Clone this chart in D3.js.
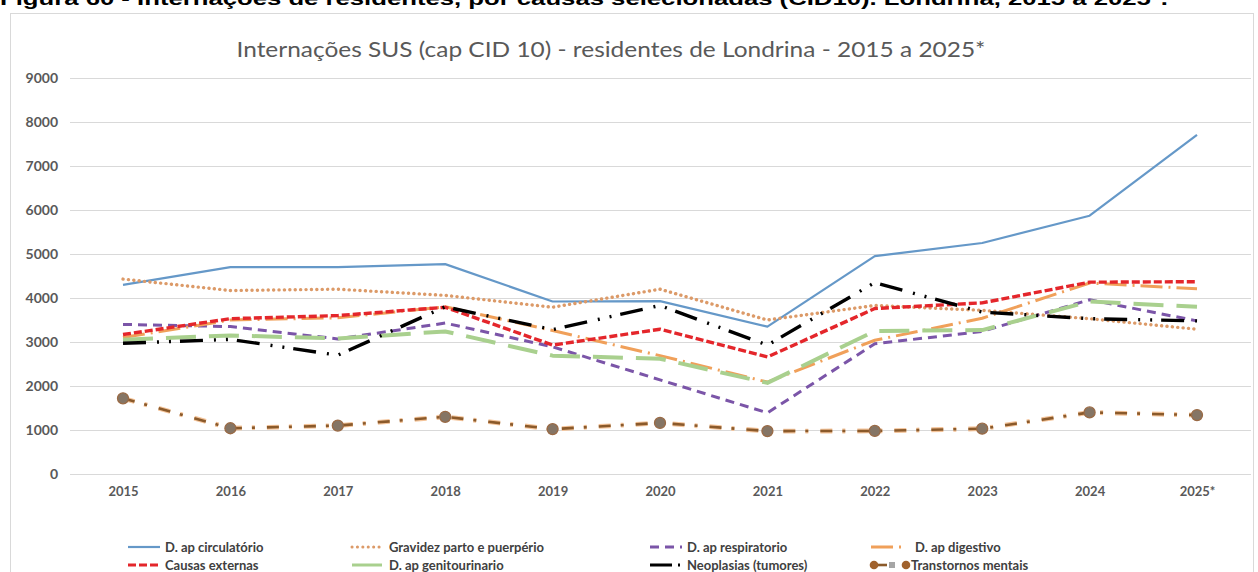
<!DOCTYPE html>
<html>
<head>
<meta charset="utf-8">
<script src="https://cdn.jsdelivr.net/npm/d3@7"></script>
<style>
body { margin: 0; background: #fff; }
svg { display: block; }
text { font-family: Lato, "Open Sans", sans-serif; }
</style>
</head>
<body>
<svg></svg>
<script>
"use strict";
// anos (eixo x)
var years = ["2015", "2016", "2017", "2018", "2019", "2020", "2021", "2022", "2023", "2024", "2025*"];
var yTicks = [0, 1000, 2000, 3000, 4000, 5000, 6000, 7000, 8000, 9000];

// internacoes por capitulo CID 10
var circulatorio   = [4300, 4700, 4700, 4770, 3920, 3930, 3350, 4950, 5250, 5870, 7710];
var gravidez       = [4430, 4170, 4200, 4060, 3790, 4200, 3500, 3830, 3720, 3530, 3290];
var respiratorio   = [3400, 3350, 3070, 3430, 2890, 2140, 1390, 2960, 3240, 3960, 3480];
var digestivo      = [3100, 3500, 3550, 3800, 3260, 2690, 2090, 3040, 3540, 4340, 4210];
var externas       = [3170, 3530, 3600, 3790, 2930, 3290, 2660, 3760, 3890, 4360, 4370];
var genitourinario = [3050, 3150, 3080, 3240, 2690, 2620, 2070, 3250, 3270, 3920, 3800];
var neoplasias     = [2970, 3060, 2700, 3800, 3280, 3830, 2930, 4350, 3680, 3530, 3480];
var mentais        = [1720, 1040, 1100, 1300, 1020, 1160, 975, 978, 1030, 1400, 1340];

var names = ["D. ap circulatório", "Gravidez parto e puerpério", "D. ap respiratorio", "D. ap digestivo",
             "Causas externas", "D. ap genitourinario", "Neoplasias (tumores)", "Transtornos mentais"];

var series = [
  {name: names[0], values: circulatorio,   color: "#6598c8", dash: null,          width: 2.2, cap: "butt"},
  {name: names[1], values: gravidez,       color: "#dc9a68", dash: "0.1,5.3",     width: 3.4, cap: "round"},
  {name: names[2], values: respiratorio,   color: "#7b55a8", dash: "9,6",         width: 3,   cap: "butt"},
  {name: names[3], values: digestivo,      color: "#f0a05a", dash: "22,6,2,6",    width: 3,   cap: "butt"},
  {name: names[4], values: externas,       color: "#e4262b", dash: "8,3",         width: 3.4, cap: "butt"},
  {name: names[5], values: genitourinario, color: "#a9d08e", dash: "30,13",       width: 4,   cap: "butt"},
  {name: names[6], values: neoplasias,     color: "#000000", dash: "23,11,2,10,2,9", width: 3.4, cap: "butt"},
  {name: names[7], values: mentais,        color: "#8b5a2b", dash: "12,10,3,12",  width: 2.6, cap: "butt", halo: "#f4c49a", marker: true}
];

var W = 1258, H = 572;
var svg = d3.select("svg").attr("width", W).attr("height", H);

// legenda da figura (cortada no topo)
svg.append("text")
  .attr("x", 0).attr("y", 5)
  .attr("textLength", 1168).attr("lengthAdjust", "spacingAndGlyphs")
  .style("font-family", "'Liberation Sans', Arial, sans-serif")
  .style("font-weight", "bold").style("font-size", "19px").attr("fill", "#000")
  .text("Figura 60 - Internações de residentes, por causas selecionadas (CID10). Londrina, 2015 a 2025*.");

// moldura do grafico
svg.append("rect")
  .attr("x", 10.5).attr("y", 13.5).attr("width", 1243).attr("height", 600)
  .attr("fill", "#fff").attr("stroke", "#d9d9d9");

svg.append("text")
  .attr("x", 611).attr("y", 57).attr("text-anchor", "middle")
  .attr("textLength", 749).attr("lengthAdjust", "spacingAndGlyphs")
  .style("font-size", "22px").attr("fill", "#595959")
  .text("Internações SUS (cap CID 10) - residentes de Londrina - 2015 a 2025*");

var x0 = 70, x1 = 1251;
var x = d3.scalePoint().domain(years).range([123, 1197]);
var y = d3.scaleLinear().domain([0, 9000]).range([474, 78]);

var yAxis = svg.append("g").attr("transform", "translate(" + x0 + ",0)")
  .call(d3.axisLeft(y).tickValues(yTicks).tickFormat(d3.format("d")).tickSize(-(x1 - x0)).tickPadding(12));
yAxis.select(".domain").remove();
yAxis.selectAll("line").attr("stroke", "#d9d9d9");
yAxis.selectAll("text").attr("fill", "#595959")
  .style("font-size", "14px").style("font-weight", "bold").style("font-family", "Lato, sans-serif");

var xAxis = svg.append("g").attr("transform", "translate(0,474)")
  .call(d3.axisBottom(x).tickSize(0).tickPadding(13));
xAxis.select(".domain").remove();
xAxis.selectAll("text").attr("fill", "#595959")
  .style("font-size", "13px").style("font-weight", "bold").style("font-family", "Lato, sans-serif");

var line = d3.line().x(function(d, i) { return x(years[i]); }).y(function(d) { return y(d); });

series.forEach(function(s) {
  if (s.halo) {
    svg.append("path").datum(s.values).attr("d", line)
      .attr("fill", "none").attr("stroke", s.halo).attr("stroke-width", s.width + 2.2)
      .attr("stroke-dasharray", s.dash);
  }
  svg.append("path").datum(s.values).attr("d", line)
    .attr("fill", "none").attr("stroke", s.color).attr("stroke-width", s.width)
    .attr("stroke-dasharray", s.dash).attr("stroke-linecap", s.cap)
    .attr("stroke-linejoin", "round");
  if (s.marker) {
    svg.append("g").selectAll("circle").data(s.values).enter().append("circle")
      .attr("cx", function(d, i) { return x(years[i]); })
      .attr("cy", function(d) { return y(d); })
      .attr("r", 5.5).attr("fill", "#857565").attr("stroke", "#9a6a45").attr("stroke-width", 1.3);
  }
});

// legenda
var legX = [128, 352, 650, 871];
var legY = [547, 565];
var leg = svg.append("g");
series.forEach(function(s, i) {
  var lx = legX[i % 4], ly = legY[Math.floor(i / 4)];
  var g = leg.append("g").attr("transform", "translate(" + lx + "," + ly + ")");
  if (s.marker) {
    g.append("line").attr("x1", 3).attr("x2", 16).attr("y1", 0).attr("y2", 0)
      .attr("stroke", s.color).attr("stroke-width", 2.6);
    g.append("circle").attr("cx", 3).attr("cy", 0).attr("r", 4.3).attr("fill", "#a0622d");
    g.append("rect").attr("x", 18).attr("y", -3).attr("width", 6).attr("height", 6).attr("fill", "#a6a6a6");
    g.append("circle").attr("cx", 35).attr("cy", 0).attr("r", 4.3).attr("fill", "#a0622d");
    g.append("text").attr("x", 40).attr("y", 4.5).attr("fill", "#404040")
      .style("font-size", "13px").style("font-weight", "bold").text(s.name);
    return;
  }
  g.append("line").attr("x1", 0).attr("x2", 32).attr("y1", 0).attr("y2", 0)
    .attr("stroke", s.color).attr("stroke-width", Math.min(s.width, 3))
    .attr("stroke-dasharray", s.dash ? (i == 3 || i == 6 ? "22,6,2,20" : s.dash) : null)
    .attr("stroke-linecap", s.cap);
  g.append("text").attr("x", i == 3 ? 44 : 37).attr("y", 4.5).attr("fill", "#404040")
    .style("font-size", "13px").style("font-weight", "bold").text(s.name);
});
</script>
</body>
</html>
